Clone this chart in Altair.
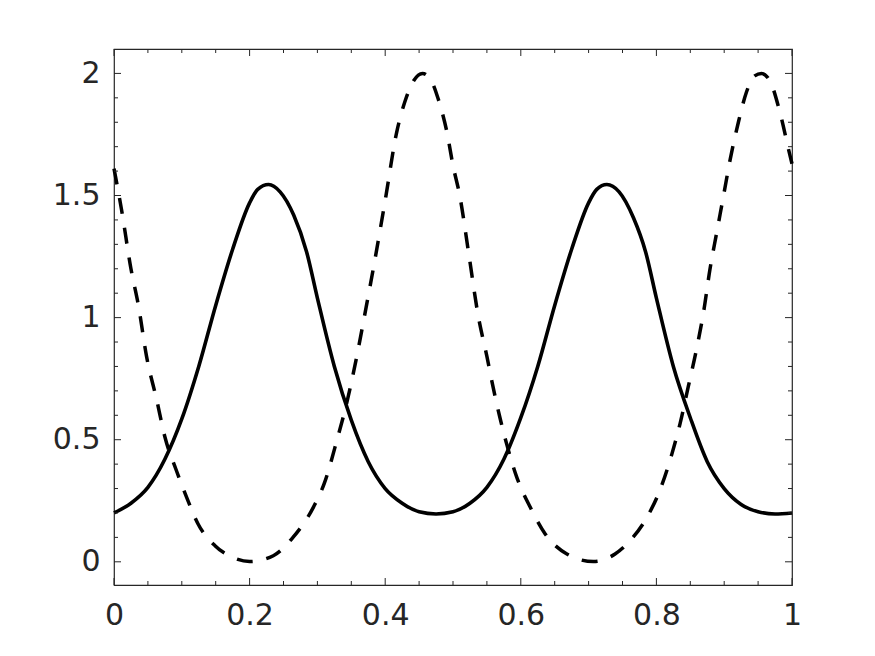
import altair as alt
import pandas as pd

# ---- data ----
solid_x = [0.000, 0.025, 0.050, 0.075, 0.100, 0.125, 0.150, 0.175, 0.200, 0.212, 0.228,
           0.245, 0.265, 0.284, 0.300, 0.325, 0.350, 0.375, 0.400, 0.425, 0.450, 0.475,
           0.500, 0.525, 0.550, 0.575, 0.600, 0.625, 0.650, 0.675, 0.700, 0.712, 0.727,
           0.745, 0.766, 0.784, 0.800, 0.825, 0.850, 0.875, 0.900, 0.925, 0.950, 0.975, 1.000]
solid_y = [0.200, 0.240, 0.305, 0.420, 0.585, 0.800, 1.050, 1.280, 1.470, 1.525, 1.545,
           1.515, 1.420, 1.270, 1.080, 0.800, 0.580, 0.410, 0.300, 0.240, 0.205, 0.196,
           0.205, 0.240, 0.305, 0.420, 0.590, 0.800, 1.050, 1.280, 1.470, 1.525, 1.545,
           1.515, 1.410, 1.270, 1.080, 0.800, 0.590, 0.410, 0.300, 0.235, 0.205, 0.196, 0.200]

dash_x = [0.000, 0.011, 0.025, 0.036, 0.048, 0.063, 0.075, 0.092, 0.107, 0.124, 0.149,
          0.175, 0.200, 0.235, 0.264, 0.294, 0.310, 0.329, 0.342, 0.358, 0.369, 0.385,
          0.400, 0.417, 0.429, 0.442, 0.455, 0.468, 0.478, 0.491, 0.500, 0.510, 0.523,
          0.537, 0.550, 0.559, 0.569, 0.579, 0.594, 0.614, 0.636, 0.668, 0.707, 0.739,
          0.761, 0.786, 0.805, 0.823, 0.835, 0.847, 0.859, 0.870, 0.879, 0.889, 0.899,
          0.909, 0.921, 0.933, 0.945, 0.955, 0.968, 0.982, 0.997, 1.000]
dash_y = [1.610, 1.444, 1.200, 1.050, 0.841, 0.663, 0.512, 0.374, 0.265, 0.155, 0.066,
          0.018, 0.001, 0.025, 0.100, 0.223, 0.320, 0.500, 0.636, 0.840, 1.000, 1.240,
          1.480, 1.760, 1.884, 1.970, 2.000, 1.970, 1.897, 1.760, 1.623, 1.499, 1.266,
          1.010, 0.841, 0.717, 0.593, 0.484, 0.347, 0.223, 0.114, 0.032, 0.001, 0.032,
          0.086, 0.182, 0.292, 0.443, 0.567, 0.717, 0.868, 1.030, 1.198, 1.349, 1.499,
          1.650, 1.801, 1.925, 1.990, 2.000, 1.966, 1.843, 1.664, 1.630]

x_major = [0, 0.2, 0.4, 0.6, 0.8, 1.0]
x_minor = [0.05, 0.1, 0.15, 0.25, 0.3, 0.35, 0.45, 0.5, 0.55, 0.65, 0.7, 0.75, 0.85, 0.9, 0.95]
y_major = [0, 0.5, 1, 1.5, 2]
y_minor = [0.1, 0.2, 0.3, 0.4, 0.6, 0.7, 0.8, 0.9, 1.1, 1.2, 1.3, 1.4, 1.6, 1.7, 1.8, 1.9]

W, H = 678, 536
FONT = "DejaVu Sans"
AX = "#262626"

xs = alt.Scale(domain=[0, 1], nice=False, zero=False)
ys = alt.Scale(domain=[-0.095, 2.1], nice=False, zero=False)

x_axis = alt.Axis(values=x_major, format="~g", title=None, ticks=False, domain=False, grid=False,
                  labelFont=FONT, labelFontSize=30, labelColor=AX, labelPadding=15,
                  labelFlush=False, labelOverlap=False)
y_axis = alt.Axis(values=y_major, format="~g", title=None, ticks=False, domain=False, grid=False,
                  labelFont=FONT, labelFontSize=30, labelColor=AX, labelPadding=14,
                  labelFlush=False, labelOverlap=False)

solid_df = pd.DataFrame({"x": solid_x, "y": solid_y})
dash_df = pd.DataFrame({"x": dash_x, "y": dash_y})

solid = alt.Chart(solid_df).mark_line(color="black", strokeWidth=3.6, interpolate="monotone").encode(
    x=alt.X("x:Q", scale=xs, axis=x_axis),
    y=alt.Y("y:Q", scale=ys, axis=y_axis),
    order="x:Q",
)
dashed = alt.Chart(dash_df).mark_line(color="black", strokeWidth=3.5, strokeDash=[16, 14],
                                      interpolate="monotone").encode(
    x=alt.X("x:Q", scale=xs, axis=x_axis),
    y=alt.Y("y:Q", scale=ys, axis=y_axis),
    order="x:Q",
)

def xticks(vals, length):
    df = pd.DataFrame({"x": vals})
    bottom = alt.Chart(df).mark_rule(color=AX, strokeWidth=1).encode(
        x=alt.X("x:Q", scale=xs, axis=x_axis), y=alt.value(H), y2=alt.value(H - length))
    top = alt.Chart(df).mark_rule(color=AX, strokeWidth=1).encode(
        x=alt.X("x:Q", scale=xs, axis=x_axis), y=alt.value(0), y2=alt.value(length))
    return [bottom, top]

def yticks(vals, length):
    df = pd.DataFrame({"y": vals})
    left = alt.Chart(df).mark_rule(color=AX, strokeWidth=1).encode(
        y=alt.Y("y:Q", scale=ys, axis=y_axis), x=alt.value(0), x2=alt.value(length))
    right = alt.Chart(df).mark_rule(color=AX, strokeWidth=1).encode(
        y=alt.Y("y:Q", scale=ys, axis=y_axis), x=alt.value(W), x2=alt.value(W - length))
    return [left, right]

layers = [solid, dashed] + xticks(x_major, 7) + xticks(x_minor, 4) + yticks(y_major, 7) + yticks(y_minor, 4)

chart = alt.layer(*layers).properties(
    width=W, height=H,
    padding={"left": 106, "top": 41, "right": 75, "bottom": 63},
    autosize=alt.AutoSizeParams(type="none"),
    background="white",
).configure_view(stroke=AX, strokeWidth=1.2)

chart.save("out.html", embed_options={"renderer": "svg", "actions": False})
